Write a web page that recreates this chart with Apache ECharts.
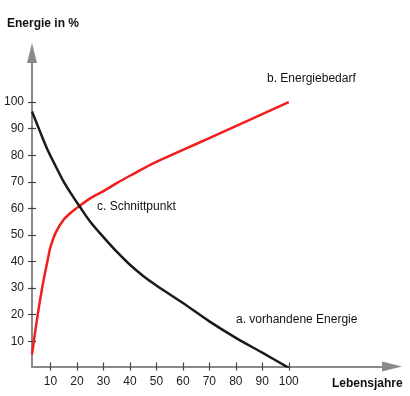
<!DOCTYPE html>
<html>
<head>
<meta charset="utf-8">
<script src="https://cdn.jsdelivr.net/npm/echarts@6/dist/echarts.min.js"></script>
<style>
  html, body { margin: 0; padding: 0; background: #fff; }
  #chart { width: 410px; height: 396px; }
</style>
</head>
<body>
<div id="chart"></div>
<script>
(function(window, echarts){
    'use strict';

    // Achsen
    var xTicks = [10, 20, 30, 40, 50, 60, 70, 80, 90, 100];
    var yTicks = [10, 20, 30, 40, 50, 60, 70, 80, 90, 100];

    // b. Energiebedarf (rot)
    var energiebedarf = [
        [3, 5], [5, 19], [7, 31], [9, 41], [10, 45.5], [12, 51], [15, 55.8],
        [18, 58.7], [21, 61], [25, 63.8], [30, 66.5], [35, 69.5], [40, 72.3],
        [45, 75], [50, 77.5], [60, 82], [70, 86.5], [80, 91], [90, 95.5], [100, 100]
    ];

    // a. vorhandene Energie (schwarz)
    var vorhandeneEnergie = [
        [3, 96.5], [6, 89], [9, 81.8], [12, 75.8], [15, 70], [18, 65.2], [21, 60.7],
        [25, 55], [30, 49.2], [35, 43.7], [40, 38.8], [45, 34.6], [50, 31], [60, 24.4],
        [70, 17.5], [80, 11.3], [90, 5.7], [100, 0]
    ];

    var font = 'Liberation Sans, Arial, sans-serif';
    var axisColor = '#8a8a8a';

    var chart = echarts.init(document.getElementById('chart'), null, {renderer: 'canvas'});

    var baseX = {
        type: 'value', min: 3, max: 139,
        splitLine: {show: false}
    };
    var baseY = {
        type: 'value', min: 0.5, max: 118.5,
        splitLine: {show: false}
    };

    chart.setOption({
        animation: false,
        backgroundColor: '#fff',
        grid: {left: 32, right: 18, top: 53, bottom: 29.5},
        xAxis: [
            Object.assign({}, baseX, {
                position: 'bottom',
                axisLine: {onZero: false, lineStyle: {color: axisColor, width: 2},
                    symbol: ['none', 'triangle'], symbolSize: [10, 20]},
                axisTick: {customValues: xTicks, length: 4, lineStyle: {color: '#444', width: 1.2}},
                axisLabel: {customValues: xTicks, margin: 9, color: '#222', fontSize: 12, fontFamily: font}
            }),
            Object.assign({}, baseX, {
                position: 'bottom',
                axisLine: {show: false, onZero: false},
                axisTick: {customValues: xTicks, inside: true, length: 4, lineStyle: {color: '#444', width: 1.2}},
                axisLabel: {show: false}
            })
        ],
        yAxis: [
            Object.assign({}, baseY, {
                position: 'left',
                axisLine: {show: true, onZero: false, lineStyle: {color: axisColor, width: 2},
                    symbol: ['none', 'triangle'], symbolSize: [10, 20]},
                axisTick: {show: true, customValues: yTicks, length: 4, lineStyle: {color: '#444', width: 1.2}},
                axisLabel: {customValues: yTicks, margin: 8, color: '#222', fontSize: 12, fontFamily: font}
            }),
            Object.assign({}, baseY, {
                position: 'left',
                axisLine: {show: false, onZero: false},
                axisTick: {show: true, customValues: yTicks, inside: true, length: 4, lineStyle: {color: '#444', width: 1.2}},
                axisLabel: {show: false}
            })
        ],
        series: [
            {
                name: 'Energiebedarf', type: 'line', data: energiebedarf,
                smooth: 0.3, symbol: 'none',
                lineStyle: {color: '#f21d1d', width: 2.5}
            },
            {
                name: 'vorhandene Energie', type: 'line', data: vorhandeneEnergie,
                smooth: 0.3, symbol: 'none',
                lineStyle: {color: '#1a1a1a', width: 2.5}
            }
        ],
        graphic: [
            {type: 'text', left: 7, top: 18, style: {text: 'Energie in %', font: 'bold 12px ' + font, fill: '#111'}},
            {type: 'text', left: 332, top: 378, style: {text: 'Lebensjahre', font: 'bold 12px ' + font, fill: '#111'}},
            {type: 'text', left: 267, top: 73, style: {text: 'b. Energiebedarf', font: '12px ' + font, fill: '#111'}},
            {type: 'text', left: 97, top: 201, style: {text: 'c. Schnittpunkt', font: '12px ' + font, fill: '#111'}},
            {type: 'text', left: 236, top: 314, style: {text: 'a. vorhandene Energie', font: '12px ' + font, fill: '#111'}}
        ]
    });

})(window, window.echarts);
</script>
</body>
</html>
